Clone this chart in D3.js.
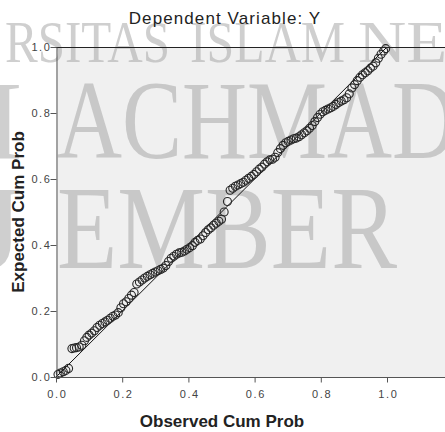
<!DOCTYPE html>
<html>
<head>
<meta charset="utf-8">
<script src="https://cdn.jsdelivr.net/npm/d3@7"></script>
<style>
    html, body { margin: 0; padding: 0; background: #fff; }
    svg { display: block; font-family: "Liberation Sans", Arial, sans-serif; }
    .tick text { fill: #444; font-size: 11px; letter-spacing: 1.6px; }
    .wm { font-family: "Liberation Serif", "Times New Roman", serif; fill: #a7a7a7; fill-opacity: 0.55; }
</style>
</head>
<body>
<svg id="chart" width="445" height="432"></svg>
<script>
// observed vs expected cumulative probability (P-P plot)
var observed = [
    0.006, 0.013, 0.022, 0.030, 0.038, 0.048, 0.055, 0.062, 0.070, 0.078,
    0.086, 0.093, 0.100, 0.108, 0.116, 0.124, 0.132, 0.140, 0.148, 0.156,
    0.164, 0.172, 0.180, 0.188, 0.196, 0.204, 0.212, 0.220, 0.228, 0.236,
    0.244, 0.252, 0.260, 0.268, 0.276, 0.284, 0.292, 0.300, 0.308, 0.316,
    0.324, 0.332, 0.340, 0.348, 0.356, 0.364, 0.372, 0.380, 0.388, 0.396,
    0.404, 0.412, 0.420, 0.428, 0.436, 0.444, 0.452, 0.460, 0.468, 0.476,
    0.484, 0.492, 0.500, 0.508, 0.518, 0.526, 0.534, 0.542, 0.550, 0.558,
    0.566, 0.574, 0.582, 0.590, 0.598, 0.606, 0.614, 0.622, 0.630, 0.638,
    0.646, 0.654, 0.662, 0.670, 0.678, 0.686, 0.694, 0.702, 0.710, 0.718,
    0.726, 0.734, 0.742, 0.750, 0.758, 0.766, 0.774, 0.782, 0.790, 0.798,
    0.806, 0.814, 0.822, 0.830, 0.838, 0.846, 0.854, 0.862, 0.870, 0.878,
    0.886, 0.894, 0.902, 0.910, 0.918, 0.926, 0.934, 0.942, 0.950, 0.958,
    0.966, 0.974, 0.982, 0.990, 0.996
];
var expected = [
    0.008, 0.012, 0.016, 0.020, 0.026, 0.086, 0.088, 0.089, 0.091, 0.096,
    0.110, 0.120, 0.127, 0.133, 0.140, 0.150, 0.157, 0.162, 0.167, 0.172,
    0.178, 0.184, 0.188, 0.195, 0.210, 0.222, 0.228, 0.238, 0.248, 0.256,
    0.282, 0.288, 0.294, 0.300, 0.305, 0.310, 0.314, 0.318, 0.322, 0.326,
    0.330, 0.338, 0.350, 0.360, 0.366, 0.372, 0.376, 0.378, 0.382, 0.387,
    0.392, 0.398, 0.408, 0.414, 0.418, 0.428, 0.438, 0.446, 0.452, 0.460,
    0.466, 0.472, 0.478, 0.500, 0.532, 0.566, 0.572, 0.578, 0.582, 0.586,
    0.590, 0.596, 0.602, 0.608, 0.614, 0.622, 0.630, 0.636, 0.645, 0.652,
    0.658, 0.660, 0.666, 0.680, 0.692, 0.702, 0.710, 0.714, 0.718, 0.722,
    0.724, 0.728, 0.734, 0.740, 0.746, 0.754, 0.762, 0.774, 0.786, 0.796,
    0.804, 0.808, 0.812, 0.816, 0.820, 0.826, 0.832, 0.836, 0.840, 0.846,
    0.858, 0.876, 0.886, 0.898, 0.908, 0.916, 0.922, 0.928, 0.936, 0.942,
    0.952, 0.966, 0.978, 0.988, 0.995
];
var xTicks = [0, 0.2, 0.4, 0.6, 0.8, 1.0];
var yTicks = [0, 0.2, 0.4, 0.6, 0.8, 1.0];
var refLine = [[0, 0], [1, 1]];

var titleText = "Dependent Variable: Y";
var xLabel = "Observed Cum Prob";
var yLabel = "Expected Cum Prob";

var svg = d3.select("#chart");
// note: can't call these top/left at global scope (window.top)
var W = 445, plotLeft = 56, plotTop = 47, plotBottom = 377;

var x = d3.scaleLinear().domain([0, 1]).range([plotLeft, 387]);
var y = d3.scaleLinear().domain([0, 1]).range([plotBottom, plotTop]);

// plot background
svg.append("rect")
    .attr("x", plotLeft).attr("y", plotTop)
    .attr("width", W - plotLeft).attr("height", plotBottom - plotTop)
    .attr("fill", "#f0f0f0");

// watermark (university logo text behind the plot), word by word
var wm = svg.append("g").attr("class", "wm");
function wmWord(txt, xPos, yPos, size, len) {
    var t = wm.append("text").attr("x", xPos).attr("y", yPos)
        .attr("font-size", size).text(txt);
    if (len) t.attr("textLength", len).attr("lengthAdjust", "spacingAndGlyphs");
    return t;
}
wmWord("RSITAS", 5, 62, 60, 165);
wmWord("ISLAM", 190, 62, 60, 155);
wmWord("NEGERI", 358, 62, 60, 245);
wmWord("H", 22, 158, 113).attr("text-anchor", "end");
wmWord("ACHMAD", 57, 158, 113, 400);
wmWord("J", 22, 268, 118).attr("text-anchor", "end");
wmWord("EMBER", 57, 268, 118, 340);

// reference diagonal
svg.append("line")
    .attr("x1", x(refLine[0][0])).attr("y1", y(refLine[0][1]))
    .attr("x2", x(refLine[1][0])).attr("y2", y(refLine[1][1]))
    .attr("stroke", "#111").attr("stroke-width", 1);

// points
svg.append("g").selectAll("circle")
    .data(observed)
    .join("circle")
    .attr("cx", function(d) { return x(d); })
    .attr("cy", function(d, i) { return y(expected[i]); })
    .attr("r", 4)
    .attr("fill", "none")
    .attr("stroke", "#262626")
    .attr("stroke-width", 1.1);

// top frame line
svg.append("line")
    .attr("x1", plotLeft).attr("x2", W)
    .attr("y1", plotTop + 0.5).attr("y2", plotTop + 0.5)
    .attr("stroke", "#222");

// axes
var xAxis = svg.append("g")
    .attr("transform", "translate(0," + (plotBottom + 0.5) + ")")
    .call(d3.axisBottom(x).tickValues(xTicks).tickFormat(d3.format(".1f")).tickSize(5).tickSizeOuter(0));
xAxis.select(".domain").attr("d", "M" + plotLeft + ",0H" + W).attr("stroke", "#555");
xAxis.selectAll(".tick line").attr("stroke", "#555");
xAxis.selectAll(".tick text").attr("dy", null).attr("y", 20).attr("dx", "0.8px");

var yAxis = svg.append("g")
    .attr("transform", "translate(" + (plotLeft + 0.5) + ",0)")
    .call(d3.axisLeft(y).tickValues(yTicks).tickFormat(d3.format(".1f")).tickSize(6).tickSizeOuter(0));
yAxis.select(".domain").attr("stroke", "#555");
yAxis.selectAll(".tick line").attr("stroke", "#555");
yAxis.selectAll(".tick text").attr("x", -5);

// titles
svg.append("text")
    .attr("x", 225).attr("y", 24)
    .attr("text-anchor", "middle")
    .attr("font-size", 17).attr("letter-spacing", 1.1)
    .attr("fill", "#222")
    .text(titleText);

svg.append("text")
    .attr("x", 222).attr("y", 427)
    .attr("text-anchor", "middle")
    .attr("font-size", 17).attr("font-weight", "bold")
    .attr("fill", "#222")
    .text(xLabel);

svg.append("text")
    .attr("transform", "translate(24,212) rotate(-90)")
    .attr("text-anchor", "middle")
    .attr("font-size", 17).attr("font-weight", "bold")
    .attr("fill", "#222")
    .text(yLabel);
</script>
</body>
</html>
